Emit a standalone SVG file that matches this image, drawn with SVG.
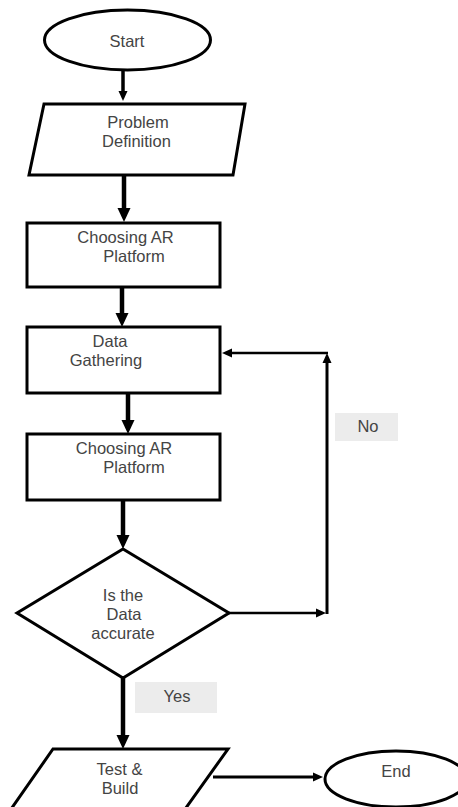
<svg xmlns="http://www.w3.org/2000/svg" width="458" height="807" viewBox="0 0 458 807">
<defs>
<style>
.shape{fill:#fff;stroke:#000;stroke-width:3}
.txt{font-family:"Liberation Sans","Open Sans",sans-serif;font-size:16.5px;fill:#444;text-anchor:middle}
.lbl{fill:#ececec;stroke:none}
.main{stroke:#000;stroke-width:4.5;fill:none}
.thin{stroke:#000;stroke-width:2.5;fill:none}
</style>
<marker id="big" markerUnits="userSpaceOnUse" markerWidth="14" markerHeight="14" viewBox="0 -7 14 14" refX="0" refY="0" orient="auto">
<path d="M0,-6.5 L14,0 L0,6.5 z" fill="#000"/>
</marker>
<marker id="small" markerUnits="userSpaceOnUse" markerWidth="10" markerHeight="10" viewBox="0 -5 10 10" refX="0" refY="0" orient="auto">
<path d="M0,-4.5 L10,0 L0,4.5 z" fill="#000"/>
</marker>
</defs>
<rect width="458" height="807" fill="#fff"/>

<g id="connectors">
<line class="main" x1="123" y1="70" x2="123" y2="91" marker-end="url(#small)" style="stroke-width:3.5"/>
<line class="main" x1="124" y1="176" x2="124" y2="208" marker-end="url(#big)"/>
<line class="main" x1="122" y1="288" x2="122" y2="313" marker-end="url(#big)"/>
<line class="main" x1="128" y1="394" x2="128" y2="420" marker-end="url(#big)"/>
<line class="main" x1="123" y1="501" x2="123" y2="535" marker-end="url(#big)"/>
<line class="main" x1="123" y1="678" x2="123" y2="735" marker-end="url(#big)"/>
<line class="thin" x1="213" y1="777" x2="313" y2="777" marker-end="url(#small)" style="stroke-width:3"/>
<line class="thin" x1="229" y1="613" x2="316" y2="613" marker-end="url(#small)"/>
<line class="thin" x1="327" y1="614" x2="327" y2="363" marker-end="url(#small)" style="stroke-width:3"/>
<line class="thin" x1="328" y1="353" x2="232" y2="353" marker-end="url(#small)"/>
</g>

<g id="start">
<ellipse class="shape" cx="127.5" cy="40" rx="83" ry="30"/>
<text class="txt" x="127" y="47">Start</text>
</g>

<g id="problem">
<polygon class="shape" points="44,104 245,104 233,175 29,175"/>
<text class="txt" x="138" y="128">Problem</text>
<text class="txt" x="136.5" y="147">Definition</text>
</g>

<g id="choosing1">
<rect class="shape" x="27" y="223" width="193" height="64"/>
<text class="txt" x="125.5" y="243">Choosing AR</text>
<text class="txt" x="134" y="262">Platform</text>
</g>

<g id="gathering">
<rect class="shape" x="27" y="327" width="193" height="66"/>
<text class="txt" x="110" y="347">Data</text>
<text class="txt" x="106" y="366">Gathering</text>
</g>

<g id="choosing2">
<rect class="shape" x="27" y="434" width="193" height="66"/>
<text class="txt" x="124" y="454">Choosing AR</text>
<text class="txt" x="134" y="473">Platform</text>
</g>

<g id="decision">
<polygon class="shape" points="123,549 229,613 123,678 17,613"/>
<text class="txt" x="123" y="601">Is the</text>
<text class="txt" x="124" y="620">Data</text>
<text class="txt" x="123" y="639">accurate</text>
</g>

<g id="label-no">
<rect class="lbl" x="335" y="413" width="63" height="28"/>
<text class="txt" x="368" y="432">No</text>
</g>

<g id="label-yes">
<rect class="lbl" x="135" y="682" width="82" height="31"/>
<text class="txt" x="177" y="702">Yes</text>
</g>

<g id="test">
<polygon class="shape" points="53,749 228,749 183,812 9,812"/>
<text class="txt" x="119.5" y="775">Test &amp;</text>
<text class="txt" x="120" y="794">Build</text>
</g>

<g id="end">
<ellipse class="shape" cx="396" cy="779" rx="71" ry="28"/>
<text class="txt" x="396" y="777">End</text>
</g>
</svg>
